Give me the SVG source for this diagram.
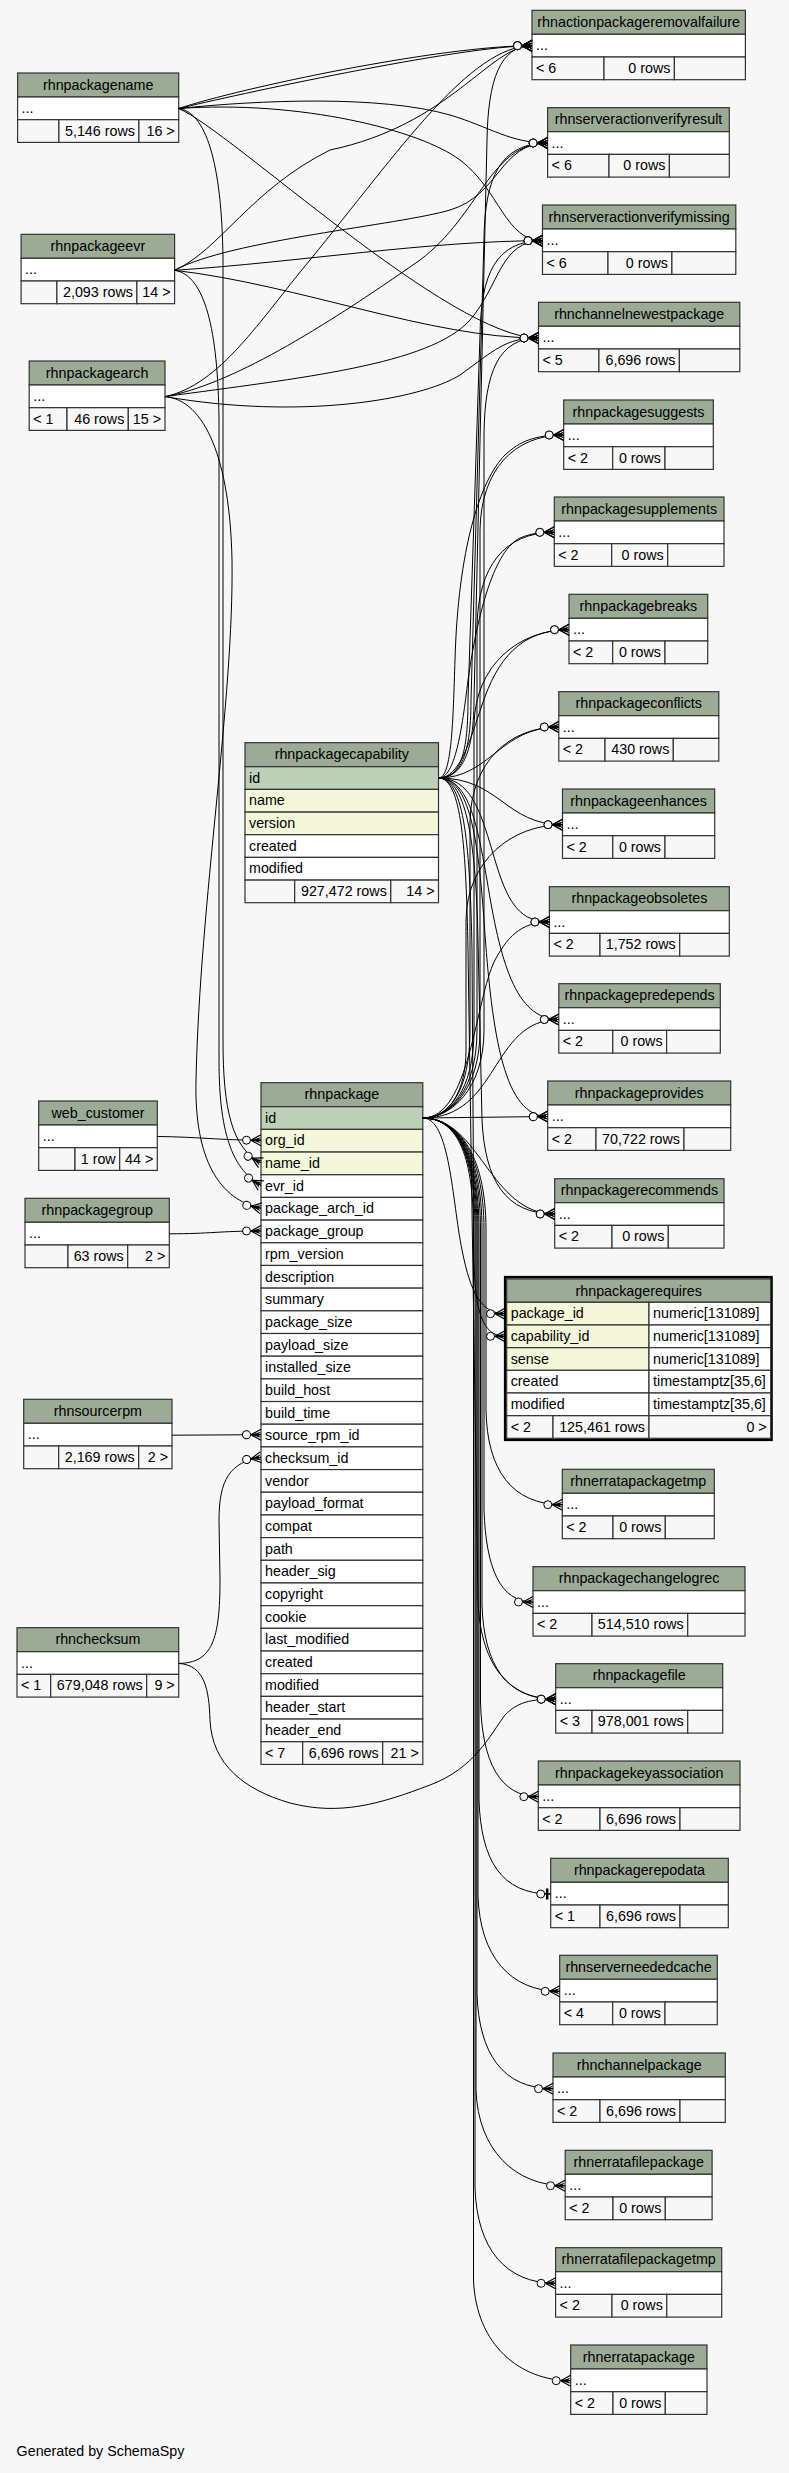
<svg xmlns="http://www.w3.org/2000/svg" width="789" height="2473" viewBox="0 0 789 2473">
<style>
.hd{fill:#9bab96}.pk{fill:#bed1b8}.ix{fill:#f4f7da}.wt{fill:#fff}.ft{fill:#f7f7f7}
g rect{stroke:#333;stroke-width:1.2}
text{font-family:"Liberation Sans",Arial,Helvetica,sans-serif;font-size:14.3px;fill:#000}
.c{text-anchor:middle}.e{text-anchor:end}
#edges path{fill:none;stroke:#000;stroke-width:1;marker-end:url(#cf)}
#edges path.one{marker-end:url(#td)}
</style>
<defs>
<marker id="cf" markerUnits="userSpaceOnUse" orient="auto" markerWidth="40" markerHeight="20" viewBox="-30 -10 40 20" refX="0" refY="0" overflow="visible">
<path d="M0,-5.5 L-10,0 L0,5.5 M-10,0 L0,0" fill="none" stroke="#000" stroke-width="1.2"/>
<path d="M-10,0 L0,-3 L-3,0 L0,3 Z" fill="#000"/>
<circle cx="-14.5" cy="0" r="4" fill="#f7f7f7" stroke="#000" stroke-width="1"/>
</marker>
<marker id="td" markerUnits="userSpaceOnUse" orient="auto" markerWidth="40" markerHeight="20" viewBox="-30 -10 40 20" refX="0" refY="0" overflow="visible">
<path d="M-6,0 L0,0" stroke="#000" stroke-width="1"/>
<path d="M-3.5,-5.5 V5.5" stroke="#000" stroke-width="2.5"/>
<circle cx="-10" cy="0" r="4" fill="#f7f7f7" stroke="#000" stroke-width="1"/>
</marker>
</defs>
<rect x="0" y="0" width="789" height="2473" fill="#f7f7f7"/>

<g id="rhnpackagename">
<rect class="hd" x="17.6" y="73" width="161.1" height="24"/><text class="c" x="98.2" y="89.5">rhnpackagename</text>
<rect class="wt" x="17.6" y="97" width="161.1" height="22.7"/><text x="21.6" y="113">...</text>
<rect class="ft" x="17.6" y="119.7" width="41.3" height="22.7"/><rect class="ft" x="58.9" y="119.7" width="80" height="22.7"/><rect class="ft" x="138.9" y="119.7" width="39.8" height="22.7"/>
<text class="e" x="134.9" y="135.7">5,146 rows</text><text class="e" x="174.7" y="135.7">16 &gt;</text>
</g>
<g id="rhnpackageevr">
<rect class="hd" x="21.1" y="234.3" width="153.5" height="24"/><text class="c" x="97.9" y="250.8">rhnpackageevr</text>
<rect class="wt" x="21.1" y="258.3" width="153.5" height="22.7"/><text x="25.1" y="274.3">...</text>
<rect class="ft" x="21.1" y="281" width="35.8" height="22.7"/><rect class="ft" x="56.9" y="281" width="80" height="22.7"/><rect class="ft" x="136.9" y="281" width="37.7" height="22.7"/>
<text class="e" x="132.9" y="297">2,093 rows</text><text class="e" x="170.6" y="297">14 &gt;</text>
</g>
<g id="rhnpackagearch">
<rect class="hd" x="29.2" y="361" width="135.8" height="24"/><text class="c" x="97.1" y="377.5">rhnpackagearch</text>
<rect class="wt" x="29.2" y="385" width="135.8" height="22.7"/><text x="33.2" y="401">...</text>
<rect class="ft" x="29.2" y="407.7" width="37.8" height="22.7"/><rect class="ft" x="67" y="407.7" width="61.3" height="22.7"/><rect class="ft" x="128.3" y="407.7" width="36.7" height="22.7"/>
<text x="33.2" y="423.7">&lt; 1</text><text class="e" x="124.3" y="423.7">46 rows</text><text class="e" x="161" y="423.7">15 &gt;</text>
</g>
<g id="web_customer">
<rect class="hd" x="38.7" y="1101" width="118.6" height="24"/><text class="c" x="98" y="1117.5">web_customer</text>
<rect class="wt" x="38.7" y="1125" width="118.6" height="22.7"/><text x="42.7" y="1141">...</text>
<rect class="ft" x="38.7" y="1147.7" width="36.3" height="22.7"/><rect class="ft" x="75" y="1147.7" width="44.7" height="22.7"/><rect class="ft" x="119.7" y="1147.7" width="37.6" height="22.7"/>
<text class="e" x="115.7" y="1163.7">1 row</text><text class="e" x="153.3" y="1163.7">44 &gt;</text>
</g>
<g id="rhnpackagegroup">
<rect class="hd" x="25" y="1198.3" width="144.3" height="24"/><text class="c" x="97.2" y="1214.8">rhnpackagegroup</text>
<rect class="wt" x="25" y="1222.3" width="144.3" height="22.7"/><text x="29" y="1238.3">...</text>
<rect class="ft" x="25" y="1245" width="43" height="22.7"/><rect class="ft" x="68" y="1245" width="59.7" height="22.7"/><rect class="ft" x="127.7" y="1245" width="41.6" height="22.7"/>
<text class="e" x="123.7" y="1261">63 rows</text><text class="e" x="165.3" y="1261">2 &gt;</text>
</g>
<g id="rhnsourcerpm">
<rect class="hd" x="23.7" y="1399.3" width="148.3" height="24"/><text class="c" x="97.9" y="1415.8">rhnsourcerpm</text>
<rect class="wt" x="23.7" y="1423.3" width="148.3" height="22.7"/><text x="27.7" y="1439.3">...</text>
<rect class="ft" x="23.7" y="1446" width="35" height="22.7"/><rect class="ft" x="58.7" y="1446" width="80" height="22.7"/><rect class="ft" x="138.7" y="1446" width="33.3" height="22.7"/>
<text class="e" x="134.7" y="1462">2,169 rows</text><text class="e" x="168" y="1462">2 &gt;</text>
</g>
<g id="rhnchecksum">
<rect class="hd" x="17" y="1627.7" width="161.7" height="24"/><text class="c" x="97.9" y="1644.2">rhnchecksum</text>
<rect class="wt" x="17" y="1651.7" width="161.7" height="22.7"/><text x="21" y="1667.7">...</text>
<rect class="ft" x="17" y="1674.4" width="33.7" height="22.7"/><rect class="ft" x="50.7" y="1674.4" width="96" height="22.7"/><rect class="ft" x="146.7" y="1674.4" width="32" height="22.7"/>
<text x="21" y="1690.4">&lt; 1</text><text class="e" x="142.7" y="1690.4">679,048 rows</text><text class="e" x="174.7" y="1690.4">9 &gt;</text>
</g>

<g id="rhnactionpackageremovalfailure">
<rect class="hd" x="532" y="10.3" width="213.4" height="24"/><text class="c" x="638.7" y="26.8">rhnactionpackageremovalfailure</text>
<rect class="wt" x="532" y="34.3" width="213.4" height="22.7"/><text x="536" y="50.3">...</text>
<rect class="ft" x="532" y="57" width="72" height="22.7"/><rect class="ft" x="604" y="57" width="70.4" height="22.7"/><rect class="ft" x="674.4" y="57" width="71" height="22.7"/>
<text x="536" y="73">&lt; 6</text><text class="e" x="670.4" y="73">0 rows</text>
</g>
<g id="rhnserveractionverifyresult">
<rect class="hd" x="547.6" y="107.7" width="181.7" height="24"/><text class="c" x="638.5" y="124.2">rhnserveractionverifyresult</text>
<rect class="wt" x="547.6" y="131.7" width="181.7" height="22.7"/><text x="551.6" y="147.7">...</text>
<rect class="ft" x="547.6" y="154.4" width="61.4" height="22.7"/><rect class="ft" x="609" y="154.4" width="60.4" height="22.7"/><rect class="ft" x="669.4" y="154.4" width="59.9" height="22.7"/>
<text x="551.6" y="170.4">&lt; 6</text><text class="e" x="665.4" y="170.4">0 rows</text>
</g>
<g id="rhnserveractionverifymissing">
<rect class="hd" x="542.5" y="205" width="193.3" height="24"/><text class="c" x="639.2" y="221.5">rhnserveractionverifymissing</text>
<rect class="wt" x="542.5" y="229" width="193.3" height="22.7"/><text x="546.5" y="245">...</text>
<rect class="ft" x="542.5" y="251.7" width="65.5" height="22.7"/><rect class="ft" x="608" y="251.7" width="63.9" height="22.7"/><rect class="ft" x="671.9" y="251.7" width="63.9" height="22.7"/>
<text x="546.5" y="267.7">&lt; 6</text><text class="e" x="667.9" y="267.7">0 rows</text>
</g>
<g id="rhnchannelnewestpackage">
<rect class="hd" x="538.5" y="302.3" width="201.3" height="24"/><text class="c" x="639.2" y="318.8">rhnchannelnewestpackage</text>
<rect class="wt" x="538.5" y="326.3" width="201.3" height="22.7"/><text x="542.5" y="342.3">...</text>
<rect class="ft" x="538.5" y="349" width="60.4" height="22.7"/><rect class="ft" x="598.9" y="349" width="80.5" height="22.7"/><rect class="ft" x="679.4" y="349" width="60.4" height="22.7"/>
<text x="542.5" y="365">&lt; 5</text><text class="e" x="675.4" y="365">6,696 rows</text>
</g>
<g id="rhnpackagesuggests">
<rect class="hd" x="563.7" y="400" width="149.6" height="24"/><text class="c" x="638.5" y="416.5">rhnpackagesuggests</text>
<rect class="wt" x="563.7" y="424" width="149.6" height="22.7"/><text x="567.7" y="440">...</text>
<rect class="ft" x="563.7" y="446.7" width="49" height="22.7"/><rect class="ft" x="612.7" y="446.7" width="52.3" height="22.7"/><rect class="ft" x="665" y="446.7" width="48.3" height="22.7"/>
<text x="567.7" y="462.7">&lt; 2</text><text class="e" x="661" y="462.7">0 rows</text>
</g>
<g id="rhnpackagesupplements">
<rect class="hd" x="554.3" y="497" width="169.7" height="24"/><text class="c" x="639.2" y="513.5">rhnpackagesupplements</text>
<rect class="wt" x="554.3" y="521" width="169.7" height="22.7"/><text x="558.3" y="537">...</text>
<rect class="ft" x="554.3" y="543.7" width="57.4" height="22.7"/><rect class="ft" x="611.7" y="543.7" width="56" height="22.7"/><rect class="ft" x="667.7" y="543.7" width="56.3" height="22.7"/>
<text x="558.3" y="559.7">&lt; 2</text><text class="e" x="663.7" y="559.7">0 rows</text>
</g>
<g id="rhnpackagebreaks">
<rect class="hd" x="569" y="594.3" width="138.7" height="24"/><text class="c" x="638.4" y="610.8">rhnpackagebreaks</text>
<rect class="wt" x="569" y="618.3" width="138.7" height="22.7"/><text x="573" y="634.3">...</text>
<rect class="ft" x="569" y="641" width="43.7" height="22.7"/><rect class="ft" x="612.7" y="641" width="52.3" height="22.7"/><rect class="ft" x="665" y="641" width="42.7" height="22.7"/>
<text x="573" y="657">&lt; 2</text><text class="e" x="661" y="657">0 rows</text>
</g>
<g id="rhnpackageconflicts">
<rect class="hd" x="558.8" y="691.7" width="160" height="24"/><text class="c" x="638.8" y="708.2">rhnpackageconflicts</text>
<rect class="wt" x="558.8" y="715.7" width="160" height="22.7"/><text x="562.8" y="731.7">...</text>
<rect class="ft" x="558.8" y="738.4" width="46.2" height="22.7"/><rect class="ft" x="605" y="738.4" width="68.3" height="22.7"/><rect class="ft" x="673.3" y="738.4" width="45.5" height="22.7"/>
<text x="562.8" y="754.4">&lt; 2</text><text class="e" x="669.3" y="754.4">430 rows</text>
</g>
<g id="rhnpackageenhances">
<rect class="hd" x="562.5" y="789" width="152.2" height="24"/><text class="c" x="638.6" y="805.5">rhnpackageenhances</text>
<rect class="wt" x="562.5" y="813" width="152.2" height="22.7"/><text x="566.5" y="829">...</text>
<rect class="ft" x="562.5" y="835.7" width="50.3" height="22.7"/><rect class="ft" x="612.8" y="835.7" width="52.2" height="22.7"/><rect class="ft" x="665" y="835.7" width="49.7" height="22.7"/>
<text x="566.5" y="851.7">&lt; 2</text><text class="e" x="661" y="851.7">0 rows</text>
</g>
<g id="rhnpackageobsoletes">
<rect class="hd" x="549.4" y="886.7" width="179.9" height="24"/><text class="c" x="639.4" y="903.2">rhnpackageobsoletes</text>
<rect class="wt" x="549.4" y="910.7" width="179.9" height="22.7"/><text x="553.4" y="926.7">...</text>
<rect class="ft" x="549.4" y="933.4" width="50.6" height="22.7"/><rect class="ft" x="600" y="933.4" width="79.7" height="22.7"/><rect class="ft" x="679.7" y="933.4" width="49.6" height="22.7"/>
<text x="553.4" y="949.4">&lt; 2</text><text class="e" x="675.7" y="949.4">1,752 rows</text>
</g>
<g id="rhnpackagepredepends">
<rect class="hd" x="558.8" y="983.7" width="161.5" height="24"/><text class="c" x="639.6" y="1000.2">rhnpackagepredepends</text>
<rect class="wt" x="558.8" y="1007.7" width="161.5" height="22.7"/><text x="562.8" y="1023.7">...</text>
<rect class="ft" x="558.8" y="1030.4" width="54" height="22.7"/><rect class="ft" x="612.8" y="1030.4" width="53.8" height="22.7"/><rect class="ft" x="666.6" y="1030.4" width="53.7" height="22.7"/>
<text x="562.8" y="1046.4">&lt; 2</text><text class="e" x="662.6" y="1046.4">0 rows</text>
</g>
<g id="rhnpackageprovides">
<rect class="hd" x="547.7" y="1081" width="183" height="24"/><text class="c" x="639.2" y="1097.5">rhnpackageprovides</text>
<rect class="wt" x="547.7" y="1105" width="183" height="22.7"/><text x="551.7" y="1121">...</text>
<rect class="ft" x="547.7" y="1127.7" width="48.3" height="22.7"/><rect class="ft" x="596" y="1127.7" width="88" height="22.7"/><rect class="ft" x="684" y="1127.7" width="46.7" height="22.7"/>
<text x="551.7" y="1143.7">&lt; 2</text><text class="e" x="680" y="1143.7">70,722 rows</text>
</g>
<g id="rhnpackagerecommends">
<rect class="hd" x="554.7" y="1178.7" width="169.3" height="24"/><text class="c" x="639.4" y="1195.2">rhnpackagerecommends</text>
<rect class="wt" x="554.7" y="1202.7" width="169.3" height="22.7"/><text x="558.7" y="1218.7">...</text>
<rect class="ft" x="554.7" y="1225.4" width="57.3" height="22.7"/><rect class="ft" x="612" y="1225.4" width="56.3" height="22.7"/><rect class="ft" x="668.3" y="1225.4" width="55.7" height="22.7"/>
<text x="558.7" y="1241.4">&lt; 2</text><text class="e" x="664.3" y="1241.4">0 rows</text>
</g>
<g id="rhnerratapackagetmp">
<rect class="hd" x="562.3" y="1469.3" width="152" height="24"/><text class="c" x="638.3" y="1485.8">rhnerratapackagetmp</text>
<rect class="wt" x="562.3" y="1493.3" width="152" height="22.7"/><text x="566.3" y="1509.3">...</text>
<rect class="ft" x="562.3" y="1516" width="50.7" height="22.7"/><rect class="ft" x="613" y="1516" width="52.3" height="22.7"/><rect class="ft" x="665.3" y="1516" width="49" height="22.7"/>
<text x="566.3" y="1532">&lt; 2</text><text class="e" x="661.3" y="1532">0 rows</text>
</g>
<g id="rhnpackagechangelogrec">
<rect class="hd" x="533" y="1566.7" width="212" height="24"/><text class="c" x="639" y="1583.2">rhnpackagechangelogrec</text>
<rect class="wt" x="533" y="1590.7" width="212" height="22.7"/><text x="537" y="1606.7">...</text>
<rect class="ft" x="533" y="1613.4" width="59" height="22.7"/><rect class="ft" x="592" y="1613.4" width="95.7" height="22.7"/><rect class="ft" x="687.7" y="1613.4" width="57.3" height="22.7"/>
<text x="537" y="1629.4">&lt; 2</text><text class="e" x="683.7" y="1629.4">514,510 rows</text>
</g>
<g id="rhnpackagefile">
<rect class="hd" x="555.7" y="1663.7" width="167" height="24"/><text class="c" x="639.2" y="1680.2">rhnpackagefile</text>
<rect class="wt" x="555.7" y="1687.7" width="167" height="22.7"/><text x="559.7" y="1703.7">...</text>
<rect class="ft" x="555.7" y="1710.4" width="36.3" height="22.7"/><rect class="ft" x="592" y="1710.4" width="95.7" height="22.7"/><rect class="ft" x="687.7" y="1710.4" width="35" height="22.7"/>
<text x="559.7" y="1726.4">&lt; 3</text><text class="e" x="683.7" y="1726.4">978,001 rows</text>
</g>
<g id="rhnpackagekeyassociation">
<rect class="hd" x="538.3" y="1761" width="201.7" height="24"/><text class="c" x="639.2" y="1777.5">rhnpackagekeyassociation</text>
<rect class="wt" x="538.3" y="1785" width="201.7" height="22.7"/><text x="542.3" y="1801">...</text>
<rect class="ft" x="538.3" y="1807.7" width="61.7" height="22.7"/><rect class="ft" x="600" y="1807.7" width="80" height="22.7"/><rect class="ft" x="680" y="1807.7" width="60" height="22.7"/>
<text x="542.3" y="1823.7">&lt; 2</text><text class="e" x="676" y="1823.7">6,696 rows</text>
</g>
<g id="rhnpackagerepodata">
<rect class="hd" x="550.7" y="1858.3" width="177.6" height="24"/><text class="c" x="639.5" y="1874.8">rhnpackagerepodata</text>
<rect class="wt" x="550.7" y="1882.3" width="177.6" height="22.7"/><text x="554.7" y="1898.3">...</text>
<rect class="ft" x="550.7" y="1905" width="49.3" height="22.7"/><rect class="ft" x="600" y="1905" width="80" height="22.7"/><rect class="ft" x="680" y="1905" width="48.3" height="22.7"/>
<text x="554.7" y="1921">&lt; 1</text><text class="e" x="676" y="1921">6,696 rows</text>
</g>
<g id="rhnserverneededcache">
<rect class="hd" x="559.7" y="1955.3" width="157.6" height="24"/><text class="c" x="638.5" y="1971.8">rhnserverneededcache</text>
<rect class="wt" x="559.7" y="1979.3" width="157.6" height="22.7"/><text x="563.7" y="1995.3">...</text>
<rect class="ft" x="559.7" y="2002" width="53" height="22.7"/><rect class="ft" x="612.7" y="2002" width="52.3" height="22.7"/><rect class="ft" x="665" y="2002" width="52.3" height="22.7"/>
<text x="563.7" y="2018">&lt; 4</text><text class="e" x="661" y="2018">0 rows</text>
</g>
<g id="rhnchannelpackage">
<rect class="hd" x="553" y="2053" width="172.3" height="24"/><text class="c" x="639.2" y="2069.5">rhnchannelpackage</text>
<rect class="wt" x="553" y="2077" width="172.3" height="22.7"/><text x="557" y="2093">...</text>
<rect class="ft" x="553" y="2099.7" width="47" height="22.7"/><rect class="ft" x="600" y="2099.7" width="80" height="22.7"/><rect class="ft" x="680" y="2099.7" width="45.3" height="22.7"/>
<text x="557" y="2115.7">&lt; 2</text><text class="e" x="676" y="2115.7">6,696 rows</text>
</g>
<g id="rhnerratafilepackage">
<rect class="hd" x="565.2" y="2150.3" width="146.9" height="24"/><text class="c" x="638.7" y="2166.8">rhnerratafilepackage</text>
<rect class="wt" x="565.2" y="2174.3" width="146.9" height="22.7"/><text x="569.2" y="2190.3">...</text>
<rect class="ft" x="565.2" y="2197" width="47.8" height="22.7"/><rect class="ft" x="613" y="2197" width="52.3" height="22.7"/><rect class="ft" x="665.3" y="2197" width="46.8" height="22.7"/>
<text x="569.2" y="2213">&lt; 2</text><text class="e" x="661.3" y="2213">0 rows</text>
</g>
<g id="rhnerratafilepackagetmp">
<rect class="hd" x="555.6" y="2247.7" width="166.1" height="24"/><text class="c" x="638.7" y="2264.2">rhnerratafilepackagetmp</text>
<rect class="wt" x="555.6" y="2271.7" width="166.1" height="22.7"/><text x="559.6" y="2287.7">...</text>
<rect class="ft" x="555.6" y="2294.4" width="56.4" height="22.7"/><rect class="ft" x="612" y="2294.4" width="54.8" height="22.7"/><rect class="ft" x="666.8" y="2294.4" width="54.9" height="22.7"/>
<text x="559.6" y="2310.4">&lt; 2</text><text class="e" x="662.8" y="2310.4">0 rows</text>
</g>
<g id="rhnerratapackage">
<rect class="hd" x="570.7" y="2345" width="136.3" height="24"/><text class="c" x="638.9" y="2361.5">rhnerratapackage</text>
<rect class="wt" x="570.7" y="2369" width="136.3" height="22.7"/><text x="574.7" y="2385">...</text>
<rect class="ft" x="570.7" y="2391.7" width="42.3" height="22.7"/><rect class="ft" x="613" y="2391.7" width="52.3" height="22.7"/><rect class="ft" x="665.3" y="2391.7" width="41.7" height="22.7"/>
<text x="574.7" y="2407.7">&lt; 2</text><text class="e" x="661.3" y="2407.7">0 rows</text>
</g>

<g id="rhnpackagecapability">
<rect class="hd" x="245" y="742.7" width="193.5" height="24"/><text class="c" x="341.8" y="759.2">rhnpackagecapability</text>
<rect class="pk" x="245" y="766.7" width="193.5" height="22.7"/><text x="249" y="782.7">id</text>
<rect class="ix" x="245" y="789.4" width="193.5" height="22.7"/><text x="249" y="805.4">name</text>
<rect class="ix" x="245" y="812.1" width="193.5" height="22.7"/><text x="249" y="828.1">version</text>
<rect class="wt" x="245" y="834.7" width="193.5" height="22.7"/><text x="249" y="850.7">created</text>
<rect class="wt" x="245" y="857.4" width="193.5" height="22.7"/><text x="249" y="873.4">modified</text>
<rect class="ft" x="245" y="880.1" width="49.7" height="22.6"/><rect class="ft" x="294.7" y="880.1" width="96.1" height="22.6"/><rect class="ft" x="390.8" y="880.1" width="47.7" height="22.6"/>
<text class="e" x="386.8" y="896.1">927,472 rows</text><text class="e" x="434.5" y="896.1">14 &gt;</text>
</g>

<g id="rhnpackage">
<rect class="hd" x="261" y="1082.7" width="161.8" height="24"/><text class="c" x="341.9" y="1099.2">rhnpackage</text>
<rect class="pk" x="261" y="1106.7" width="161.8" height="22.68"/><text x="265" y="1122.7">id</text>
<rect class="ix" x="261" y="1129.38" width="161.8" height="22.68"/><text x="265" y="1145.4">org_id</text>
<rect class="ix" x="261" y="1152.06" width="161.8" height="22.68"/><text x="265" y="1168.1">name_id</text>
<rect class="wt" x="261" y="1174.74" width="161.8" height="22.68"/><text x="265" y="1190.7">evr_id</text>
<rect class="wt" x="261" y="1197.42" width="161.8" height="22.68"/><text x="265" y="1213.4">package_arch_id</text>
<rect class="wt" x="261" y="1220.1" width="161.8" height="22.68"/><text x="265" y="1236.1">package_group</text>
<rect class="wt" x="261" y="1242.78" width="161.8" height="22.68"/><text x="265" y="1258.8">rpm_version</text>
<rect class="wt" x="261" y="1265.46" width="161.8" height="22.68"/><text x="265" y="1281.5">description</text>
<rect class="wt" x="261" y="1288.14" width="161.8" height="22.68"/><text x="265" y="1304.1">summary</text>
<rect class="wt" x="261" y="1310.82" width="161.8" height="22.68"/><text x="265" y="1326.8">package_size</text>
<rect class="wt" x="261" y="1333.5" width="161.8" height="22.68"/><text x="265" y="1349.5">payload_size</text>
<rect class="wt" x="261" y="1356.18" width="161.8" height="22.68"/><text x="265" y="1372.2">installed_size</text>
<rect class="wt" x="261" y="1378.86" width="161.8" height="22.68"/><text x="265" y="1394.9">build_host</text>
<rect class="wt" x="261" y="1401.54" width="161.8" height="22.68"/><text x="265" y="1417.5">build_time</text>
<rect class="wt" x="261" y="1424.22" width="161.8" height="22.68"/><text x="265" y="1440.2">source_rpm_id</text>
<rect class="wt" x="261" y="1446.9" width="161.8" height="22.68"/><text x="265" y="1462.9">checksum_id</text>
<rect class="wt" x="261" y="1469.58" width="161.8" height="22.68"/><text x="265" y="1485.6">vendor</text>
<rect class="wt" x="261" y="1492.26" width="161.8" height="22.68"/><text x="265" y="1508.3">payload_format</text>
<rect class="wt" x="261" y="1514.94" width="161.8" height="22.68"/><text x="265" y="1530.9">compat</text>
<rect class="wt" x="261" y="1537.62" width="161.8" height="22.68"/><text x="265" y="1553.6">path</text>
<rect class="wt" x="261" y="1560.3" width="161.8" height="22.68"/><text x="265" y="1576.3">header_sig</text>
<rect class="wt" x="261" y="1582.98" width="161.8" height="22.68"/><text x="265" y="1599">copyright</text>
<rect class="wt" x="261" y="1605.66" width="161.8" height="22.68"/><text x="265" y="1621.7">cookie</text>
<rect class="wt" x="261" y="1628.34" width="161.8" height="22.68"/><text x="265" y="1644.3">last_modified</text>
<rect class="wt" x="261" y="1651.02" width="161.8" height="22.68"/><text x="265" y="1667">created</text>
<rect class="wt" x="261" y="1673.7" width="161.8" height="22.68"/><text x="265" y="1689.7">modified</text>
<rect class="wt" x="261" y="1696.38" width="161.8" height="22.68"/><text x="265" y="1712.4">header_start</text>
<rect class="wt" x="261" y="1719.06" width="161.8" height="22.68"/><text x="265" y="1735.1">header_end</text>
<rect class="ft" x="261" y="1741.74" width="41.7" height="22.68"/><rect class="ft" x="302.7" y="1741.74" width="80" height="22.68"/><rect class="ft" x="382.7" y="1741.74" width="40.1" height="22.68"/>
<text x="265" y="1757.7">&lt; 7</text><text class="e" x="378.7" y="1757.7">6,696 rows</text><text class="e" x="418.8" y="1757.7">21 &gt;</text>
</g>

<g id="rhnpackagerequires">
<rect x="505.2" y="1277.2" width="266.3" height="162.6" fill="#fff" style="stroke:#000;stroke-width:2.6"/>
<rect class="hd" x="506.7" y="1279" width="264" height="23.3"/><text class="c" x="638.7" y="1295.8">rhnpackagerequires</text>
<rect class="ix" x="506.7" y="1302.3" width="142.3" height="22.7"/><rect class="wt" x="649" y="1302.3" width="121.7" height="22.7"/>
<text x="510.7" y="1318.3">package_id</text><text x="653" y="1318.3">numeric[131089]</text>
<rect class="ix" x="506.7" y="1325" width="142.3" height="22.7"/><rect class="wt" x="649" y="1325" width="121.7" height="22.7"/>
<text x="510.7" y="1341">capability_id</text><text x="653" y="1341">numeric[131089]</text>
<rect class="ix" x="506.7" y="1347.7" width="142.3" height="22.7"/><rect class="wt" x="649" y="1347.7" width="121.7" height="22.7"/>
<text x="510.7" y="1363.7">sense</text><text x="653" y="1363.7">numeric[131089]</text>
<rect class="wt" x="506.7" y="1370.3" width="142.3" height="22.7"/><rect class="wt" x="649" y="1370.3" width="121.7" height="22.7"/>
<text x="510.7" y="1386.3">created</text><text x="653" y="1386.3">timestamptz[35,6]</text>
<rect class="wt" x="506.7" y="1393" width="142.3" height="22.7"/><rect class="wt" x="649" y="1393" width="121.7" height="22.7"/>
<text x="510.7" y="1409">modified</text><text x="653" y="1409">timestamptz[35,6]</text>
<rect class="ft" x="506.7" y="1415.7" width="46.3" height="22.6"/><rect class="ft" x="553" y="1415.7" width="96" height="22.6"/><rect class="ft" x="649" y="1415.7" width="121.7" height="22.6"/>
<text x="510.7" y="1431.7">&lt; 2</text><text class="e" x="645" y="1431.7">125,461 rows</text><text class="e" x="766.7" y="1431.7">0 &gt;</text>
</g>

<g id="edges">
<path d="M178.7,108.5 C240,88 440,45.7 532,45.7"/>
<path d="M178.7,108.5 C230,96 460,45.7 532,45.7"/>
<path d="M178.7,108.5 C260,100 380,95 450,115 C490,127 510,143 547.6,143"/>
<path d="M178.7,108.5 C300,100 420,130 460,160 C500,190 505,240.7 542.5,240.7"/>
<path d="M178.7,108.5 C230,130 450,338 538.5,338"/>
<path d="M178.7,108.5 C205,112 222,160 223,260 L223,1040 C223,1110 232,1148 261,1162.8"/>
<path d="M174.6,270.3 C220,250 250,190 330,150 C450,125 490,45.7 532,45.7"/>
<path d="M174.6,270.3 C230,240 400,225 450,210 C500,195 500,143 547.6,143"/>
<path d="M174.6,270.3 C300,262 430,240.7 542.5,240.7"/>
<path d="M174.6,270.3 C300,285 430,338 538.5,338"/>
<path d="M174.6,270.3 C205,275 218,330 219,420 L219,1060 C219,1140 235,1170 261,1185.5"/>
<path d="M165,396.6 C220,385 260,320 310,260 C400,150 470,45.7 532,45.7"/>
<path d="M165,396.6 C230,385 320,330 420,260 C480,215 490,143 547.6,143"/>
<path d="M165,396.6 C300,378 430,365 470,320 C500,285 500,240.7 542.5,240.7"/>
<path d="M165,396.6 C300,420 420,400 460,375 C495,350 505,338 538.5,338"/>
<path d="M165,396.6 C205,400 230,460 232,560 C234,700 200,900 196,1080 C194,1160 220,1200 261,1208.2"/>
<path d="M157.3,1136.5 C200,1137 220,1140.2 261,1140.2"/>
<path d="M169.3,1233.8 C210,1233.8 220,1231 261,1231"/>
<path d="M172,1435.2 L261,1434.7"/>
<path d="M178.7,1663.4 C212,1663 220,1640 220,1580 L219,1520 C219,1480 230,1462 261,1457.3"/>
<path d="M178.7,1663.4 C205,1665 209,1690 210,1720 C212,1765 245,1790 290,1803 C340,1816 380,1804 430,1785 C475,1768 490,1735 505,1715 C518,1702 530,1699.2 555.7,1699.2"/>
<path d="M438.5,778 C458,778 474,760 474,700 L487,140 C488,80 500,45.7 532,45.7"/>
<path d="M438.5,778 C458,778 471,760 471,700 L484,238 C485,178 500,143 547.6,143"/>
<path d="M438.5,778 C458,778 468,760 468,700 L480,335 C481,275 495,240.7 542.5,240.7"/>
<path d="M438.5,778 C452,778 453,720 455,660 C458,550 480,480 505,455 C520,441 535,435 563.7,435"/>
<path d="M438.5,778 C455,778 462,730 468,680 C478,610 495,550 520,538 C532,533 542,532.3 554.3,532.3"/>
<path d="M438.5,778 C460,778 470,740 482,705 C497,660 520,629.7 569,629.7"/>
<path d="M438.5,778 C490,778 500,727 558.8,727"/>
<path d="M438.5,778 C500,778 505,824.7 562.5,824.7"/>
<path d="M438.5,778 C470,778 480,810 492,850 C505,895 515,922 549.4,922"/>
<path d="M438.5,778 C470,778 478,830 487,880 C500,960 515,1019.5 558.8,1019.5"/>
<path d="M438.5,778 C470,778 478,840 484,920 C492,1040 505,1116.5 547.8,1116.5"/>
<path d="M438.5,778 C468,778 476,850 478,940 L482,1120 C485,1180 505,1214 554.7,1214"/>
<path d="M438.5,778 C465,778 470,850 472,950 L474,1260 C475,1310 482,1336.3 505,1336.3"/>
<path d="M438.5,778 C462,778 466,850 468,950 L478,1600 C480,1660 505,1699.2 555.7,1699.2"/>
<path d="M422.8,1118 C450,1118 484,1090 484,1030 L484,433 C485,373 498,338 538.5,338"/>
<path d="M422.8,1118 C450,1118 480,1090 480,1030 L480,530 C481,470 514,435 563.7,435"/>
<path d="M422.8,1118 C450,1118 477,1090 477,1030 L477,627 C478,567 504,532.3 554.3,532.3"/>
<path d="M422.8,1118 C450,1118 474,1090 474,1030 L474,725 C475,665 519,629.7 569,629.7"/>
<path d="M422.8,1118 C450,1118 470,1090 470,1030 L470,822 C471,762 509,727 558.8,727"/>
<path d="M422.8,1118 C450,1118 466,1090 466,1050 L466,920 C467,860 512,824.7 562.5,824.7"/>
<path d="M422.8,1118 C470,1118 475,1000 495,960 C510,932 525,922 549.4,922"/>
<path d="M422.8,1118 C500,1118 490,1019.5 558.8,1019.5"/>
<path d="M422.8,1118 L547.8,1116.5"/>
<path d="M422.8,1118 C480,1118 490,1214 554.7,1214"/>
<path d="M422.8,1118 C450,1118 452,1200 462,1250 C471,1295 482,1313.7 505,1313.7"/>
<path d="M422.8,1118 C455,1118 486,1150 486,1230 L486,1410 C487,1470 512,1504.7 562.3,1504.7"/>
<path d="M422.8,1118 C455,1118 484,1150 484,1230 L484,1510 C486,1568 500,1602 533,1602"/>
<path d="M422.8,1118 C455,1118 482,1150 482,1230 L482,1605 C484,1665 506,1699.2 555.7,1699.2"/>
<path d="M422.8,1118 C455,1118 480.5,1150 480.5,1230 L480.5,1702 C482,1762 500,1796.7 538.3,1796.7"/>
<path class="one" d="M422.8,1118 C455,1118 479,1150 479,1230 L479,1800 C481,1860 501,1894 550.7,1894"/>
<path d="M422.8,1118 C455,1118 478,1150 478,1230 L478,1896 C480,1956 510,1991.3 559.7,1991.3"/>
<path d="M422.8,1118 C455,1118 477,1150 477,1230 L477,1994 C479,2054 503,2088.7 553,2088.7"/>
<path d="M422.8,1118 C455,1118 476,1150 476,1230 L476,2090 C478,2150 515,2185.7 565,2185.7"/>
<path d="M422.8,1118 C455,1118 475,1150 475,1230 L475,2188 C477,2248 505,2283.3 555.6,2283.3"/>
<path d="M422.8,1118 C455,1118 473.5,1150 473.5,1230 L473.5,2280 C476,2345 520,2380.7 570.7,2380.7"/>
</g>

<text x="16.6" y="2456">Generated by SchemaSpy</text>
</svg>
